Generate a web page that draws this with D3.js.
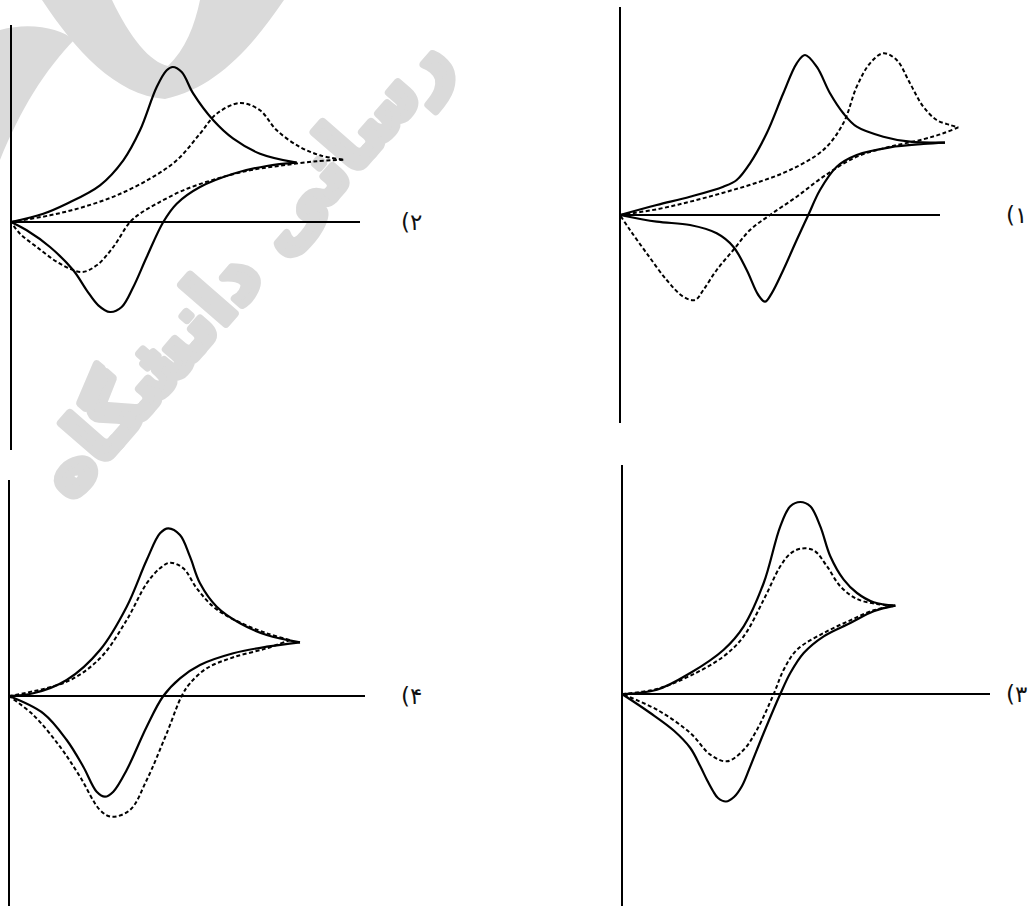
<!DOCTYPE html>
<html>
<head>
<meta charset="utf-8">
<script src="https://cdn.jsdelivr.net/npm/d3@7"></script>
<style>
  html, body { margin: 0; padding: 0; background: #fff; }
  svg { display: block; }
</style>
</head>
<body>
<svg id="chart" width="1030" height="906"></svg>
<script>
// Cyclic voltammograms: four options, each with a solid and a dashed trace.
// Points are [potential, current] in arbitrary units; forward and reverse sweeps kept apart.

// Option 1
const p1SolidFwd = [[0,0],[36.7,10],[70,18.3],[103.3,28.3],[116.7,35],[130,51.7],[146.7,81.7],[163.3,121.7],[176.7,151.7],[185,160],[196.7,148.3],[210,121.7],[223.3,101.7],[236.7,88.3],[263.3,78.3],[290,73.3],[325,72.3]];
const p1SolidRev = [[325,72.3],[303.3,71],[270,67.7],[236.7,60],[216.7,48.3],[200,25],[188.3,0],[176.7,-25],[163.3,-55],[151.7,-78.3],[145,-86.7],[138.3,-80],[126.7,-55],[113.3,-31.7],[96.7,-18.3],[70,-10],[36.7,-6.7],[0,0]];
const p1DashFwd = [[0,0],[36.7,5.7],[70,13.3],[103.3,22.3],[136.7,32.3],[170,45],[203.3,65],[223.3,91.7],[236.7,128.3],[250,151.7],[263.3,161.7],[276.7,155],[290,131.7],[303.3,108.3],[316.7,95],[330,90],[338.3,87.7]];
const p1DashRev = [[338.3,87.7],[323.3,81.7],[303.3,75.7],[270,68.3],[236.7,58.3],[203.3,38.3],[176.7,18.3],[150,0],[130,-15],[113.3,-35],[96.7,-55],[83.3,-75],[75,-85],[63.3,-81.7],[46.7,-65],[26.7,-38.3],[10,-15],[0,0]];

// Option 2
const p2SolidFwd = [[0,0],[32.3,8.3],[55.7,18.3],[89,36.7],[112.3,61.7],[129,91.7],[145.7,135],[155.7,151.7],[161.7,155],[170.7,150],[182.3,128.3],[202.3,101.7],[222.3,83.3],[249,68.3],[285.7,59.3]];
const p2SolidRev = [[285.7,59.3],[255.7,56],[222.3,48.3],[189,35],[165.7,18.3],[152.3,0],[135.7,-35],[122.3,-65],[110.7,-85],[99,-90],[87.3,-83.3],[75.7,-68.3],[62.3,-48.3],[39,-25],[15.7,-8.3],[0,0]];
const p2DashFwd = [[0,0],[39,6.7],[72.3,15],[105.7,26.7],[139,43.3],[165.7,61.7],[189,88.3],[205.7,108.3],[229,119],[249,111.7],[265.7,91.7],[289,75],[309,66.7],[332.3,62.3]];
const p2DashRev = [[332.3,62.3],[305.7,60.7],[272.3,56.7],[239,51.7],[205.7,43.3],[172.3,31.7],[145.7,18.3],[129,8.3],[119,0],[102.3,-25],[85.7,-43.3],[70.7,-50],[49,-41.7],[25.7,-25],[9,-11.7],[0,0]];

// Option 3
const p3SolidFwd = [[0,0],[35,4.3],[68.3,21],[101.7,44.3],[121.7,67.7],[141.7,111],[158.3,167.7],[168.3,187.7],[178.3,192],[188.3,187.7],[198.3,167.7],[208.3,137.7],[221.7,114.3],[235,101],[251.7,91.7],[273.3,88.3]];
const p3SolidRev = [[273.3,88.3],[251.7,82.7],[228.3,71],[201.7,57.7],[181.7,41],[168.3,21],[158.3,0],[141.7,-39],[128.3,-72.3],[120,-92],[112,-103],[104,-107.5],[96,-104],[91,-97],[85,-86],[78.3,-72.3],[68.3,-54],[51.7,-36.5],[28.3,-19],[0,0]];
const p3DashFwd = [[0,0],[35,5],[68.3,18.3],[101.7,37.7],[121.7,57.7],[141.7,94.3],[158.3,127.7],[168.3,140.3],[178.3,145.3],[191.7,143.7],[205,127.7],[218.3,107.7],[235,95],[255,90],[273.3,88.3]];
const p3DashRev = [[273.3,88.3],[251.7,83.7],[228.3,73.7],[201.7,61],[175,44.3],[161.7,24.3],[151.7,0],[135,-35.7],[121.7,-55.7],[105,-67.3],[88.3,-60.7],[68.3,-39],[35,-15.7],[0,0]];

// Option 4
const p4SolidFwd = [[0,0],[24.3,2.7],[57.7,16],[91,46],[117.7,89.3],[137.7,136],[151,162.7],[159.3,167.7],[171,161],[181,139.3],[191,112.7],[207.7,89.3],[231,72.7],[257.7,61],[291,53.7]];
const p4SolidRev = [[291,53.7],[257.7,49.3],[224.3,42.7],[191,31],[171,17.7],[154.3,0],[137.7,-30.7],[117.7,-74],[104.3,-95.7],[96,-100.7],[87.7,-95.7],[74.3,-70.7],[57.7,-44],[34.3,-17.3],[0,0]];
const p4DashFwd = [[0,0],[57.7,14.3],[91,37.7],[117.7,76],[137.7,112.7],[151,127.7],[161,133.3],[174.3,127.7],[187.7,107.7],[204.3,89.3],[224.3,76.7],[257.7,62.7],[281,56]];
const p4DashRev = [[281,56],[257.7,47.7],[224.3,38.7],[197.7,27.7],[181,12.7],[172.7,0],[157.7,-37.3],[137.7,-84],[121,-114],[102.7,-120.7],[91,-114],[71,-80.7],[51,-50.7],[24.3,-19],[0,0]];

// Option labels (Persian numerals)
const optionLabels = ["(۱", "(۲", "(۳", "(۴"];

const svg = d3.select("#chart");

// Faint background watermark
const wm = svg.append("g").attr("fill", "#dadada");
wm.append("path")
  .attr("d", "M42,0 L112,0 C130,38 150,62 168,66 C185,50 195,25 200,0 L284,0 C250,50 215,88 165,99 C115,95 75,50 42,0 Z");
wm.append("path")
  .attr("d", "M0,30 C30,22 60,28 74,40 C45,70 20,110 0,160 Z");
wm.append("text")
  .attr("transform", "translate(262,282) rotate(-49)")
  .attr("text-anchor", "middle")
  .attr("font-family", "DejaVu Sans")
  .attr("font-weight", "bold")
  .attr("font-size", 78)
  .attr("stroke", "#dadada")
  .attr("stroke-width", 8)
  .attr("stroke-linejoin", "round")
  .text("رسانی دانشگاه");

// Panel frames: axis positions on the page
const panels = [
  { label: optionLabels[1], data: [p2SolidFwd, p2SolidRev, p2DashFwd, p2DashRev],
    ox: 11, oy: 222, xEnd: 360, yTop: 25, yBot: 450, lx: 401 },
  { label: optionLabels[0], data: [p1SolidFwd, p1SolidRev, p1DashFwd, p1DashRev],
    ox: 620, oy: 215, xEnd: 940, yTop: 7, yBot: 423, lx: 1006 },
  { label: optionLabels[3], data: [p4SolidFwd, p4SolidRev, p4DashFwd, p4DashRev],
    ox: 9, oy: 696, xEnd: 365, yTop: 480, yBot: 906, lx: 401 },
  { label: optionLabels[2], data: [p3SolidFwd, p3SolidRev, p3DashFwd, p3DashRev],
    ox: 622, oy: 694, xEnd: 990, yTop: 465, yBot: 906, lx: 1006 }
];

panels.forEach(p => {
  const g = svg.append("g");
  // 1 unit of potential / current = 1 px in every panel
  const x = d3.scaleLinear().domain([0, p.xEnd - p.ox]).range([p.ox, p.xEnd]);
  const y = d3.scaleLinear().domain([-(p.yBot - p.oy), p.oy - p.yTop]).range([p.yBot, p.yTop]);

  // axes
  g.append("line").attr("x1", x(0)).attr("x2", x(0)).attr("y1", p.yTop).attr("y2", p.yBot)
    .attr("stroke", "#000").attr("stroke-width", 2);
  g.append("line").attr("x1", x(0)).attr("x2", x(p.xEnd - p.ox)).attr("y1", y(0)).attr("y2", y(0))
    .attr("stroke", "#000").attr("stroke-width", 2);

  const line = d3.line().x(d => x(d[0])).y(d => y(d[1])).curve(d3.curveCatmullRom.alpha(0.5));

  p.data.forEach((seg, i) => {
    const dashed = i >= 2;
    g.append("path")
      .attr("d", line(seg))
      .attr("fill", "none")
      .attr("stroke", "#000")
      .attr("stroke-width", dashed ? 2 : 2.2)
      .attr("stroke-linejoin", "round")
      .attr("stroke-dasharray", dashed ? "4,2.5" : null);
  });

  g.append("text")
    .attr("x", p.lx).attr("y", y(0) + 8)
    .attr("font-family", "DejaVu Sans")
    .attr("font-size", 23)
    .attr("fill", "#111")
    .text(p.label);
});
</script>
</body>
</html>
